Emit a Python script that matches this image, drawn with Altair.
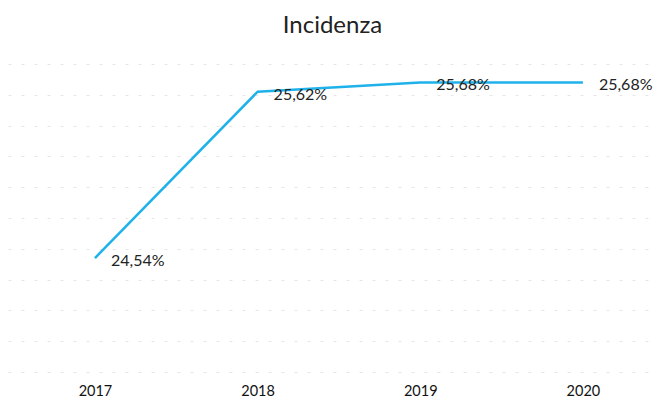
import altair as alt
import pandas as pd

years = ["2017", "2018", "2019", "2020"]
values = [24.54, 25.62, 25.68, 25.68]
labels = ["24,54%", "25,62%", "25,68%", "25,68%"]
grid_values = [23.8, 24.0, 24.2, 24.4, 24.6, 24.8, 25.0, 25.2, 25.4, 25.6, 25.8]

df = pd.DataFrame({"anno": years, "valore": values, "etichetta": labels})

x = alt.X("anno:N", sort=years, title=None,
          scale=alt.Scale(type="point", padding=0.495, align=0.54),
          axis=alt.Axis(labelAngle=0, domain=False, ticks=False, grid=False,
                        labelFont="Lato", labelFontSize=14.5, labelColor="#111",
                        labelPadding=12))
y = alt.Y("valore:Q", title=None,
          scale=alt.Scale(domain=[23.8, 25.8], zero=False, nice=False),
          axis=alt.Axis(values=grid_values, labels=False, ticks=False, domain=False,
                        grid=True, gridColor="#e6e6e6", gridDash=[3, 10], gridWidth=1))

line = alt.Chart(df).mark_line(color="#1FB2EA", strokeWidth=2.5).encode(x=x, y=y)
text = alt.Chart(df).mark_text(align="left", baseline="middle", dx=16, dy=3,
                               font="Lato", fontSize=16, color="#222").encode(
    x=x, y=y, text="etichetta:N")

chart = (line + text).properties(
    width=649, height=308,
    title=alt.TitleParams("Incidenza", font="Lato", fontSize=24, fontWeight="normal",
                          color="#222", anchor="middle", offset=26),
    autosize=alt.AutoSizeParams(type="none"),
    padding={"left": 0, "top": 56, "right": 0, "bottom": 28},
).configure_view(stroke=None)

chart.save("out.html", embed_options={"renderer": "svg", "actions": False})
